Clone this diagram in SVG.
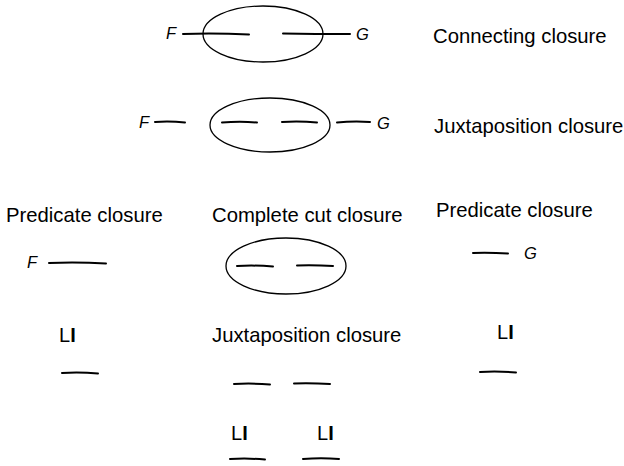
<svg xmlns="http://www.w3.org/2000/svg" width="624" height="466" viewBox="0 0 624 466">
<style>
text{font-family:"Liberation Sans",Arial,sans-serif;fill:#000}
.lbl{font-size:20.3px}
.var{font-size:16.5px;font-style:italic}
.li{font-size:20px}
.cut{fill:none;stroke:#000;stroke-width:1.3}
.line{fill:none;stroke:#000;stroke-width:2;stroke-linecap:round}
</style>
<rect width="624" height="466" fill="#fff"/>
<g id="connecting">
<text class="var" x="166" y="39">F</text>
<ellipse class="cut" cx="263" cy="34" rx="60" ry="28"/>
<path class="line" d="M183 34 Q215 33 249 34.5"/>
<path class="line" d="M283 33.5 Q315 34 350 34"/>
<text class="var" x="356" y="40">G</text>
<text class="lbl" x="433" y="43">Connecting closure</text>
</g>
<g id="juxtaposition">
<text class="var" x="139" y="128">F</text>
<path class="line" d="M155 122 Q170 121 185 122.5"/>
<ellipse class="cut" cx="270" cy="125" rx="60" ry="27"/>
<path class="line" d="M222 122.5 Q240 121 257 122.5"/>
<path class="line" d="M282 122 Q300 121 317 122.5"/>
<path class="line" d="M337 122.5 Q353 121 370 122"/>
<text class="var" x="377" y="129">G</text>
<text class="lbl" x="434" y="133">Juxtaposition closure</text>
</g>
<g id="predicate-left">
<text class="lbl" x="6" y="222">Predicate closure</text>
<text class="var" x="27" y="268">F</text>
<path class="line" d="M49 263 Q78 262 106 263.5"/>
<text class="li" x="59" y="342">L<tspan font-weight="bold">I</tspan></text>
<path class="line" d="M62 373 Q80 372 98 373.5"/>
</g>
<g id="complete-cut">
<text class="lbl" x="212" y="222">Complete cut closure</text>
<ellipse class="cut" cx="286" cy="266" rx="60" ry="28"/>
<path class="line" d="M237 266 Q255 265 273 266.5"/>
<path class="line" d="M297 265.5 Q315 265 333 266"/>
</g>
<g id="predicate-right">
<text class="lbl" x="436" y="217">Predicate closure</text>
<path class="line" d="M473 253 Q490 252.5 508 253.5"/>
<text class="var" x="524" y="259">G</text>
<text class="li" x="497" y="339">L<tspan font-weight="bold">I</tspan></text>
<path class="line" d="M480 372 Q498 371 516 372.5"/>
</g>
<g id="juxtaposition-bottom">
<text class="lbl" x="212" y="342">Juxtaposition closure</text>
<path class="line" d="M234 384 Q252 383 270 384.5"/>
<path class="line" d="M294 383.5 Q312 383 330 384"/>
<text class="li" x="231" y="440">L<tspan font-weight="bold">I</tspan></text>
<text class="li" x="317" y="440">L<tspan font-weight="bold">I</tspan></text>
<path class="line" d="M230 459 Q248 458 265 459.5"/>
<path class="line" d="M303 459 Q321 457.5 339 459"/>
</g>
<g id="connectors"></g>
</svg>
